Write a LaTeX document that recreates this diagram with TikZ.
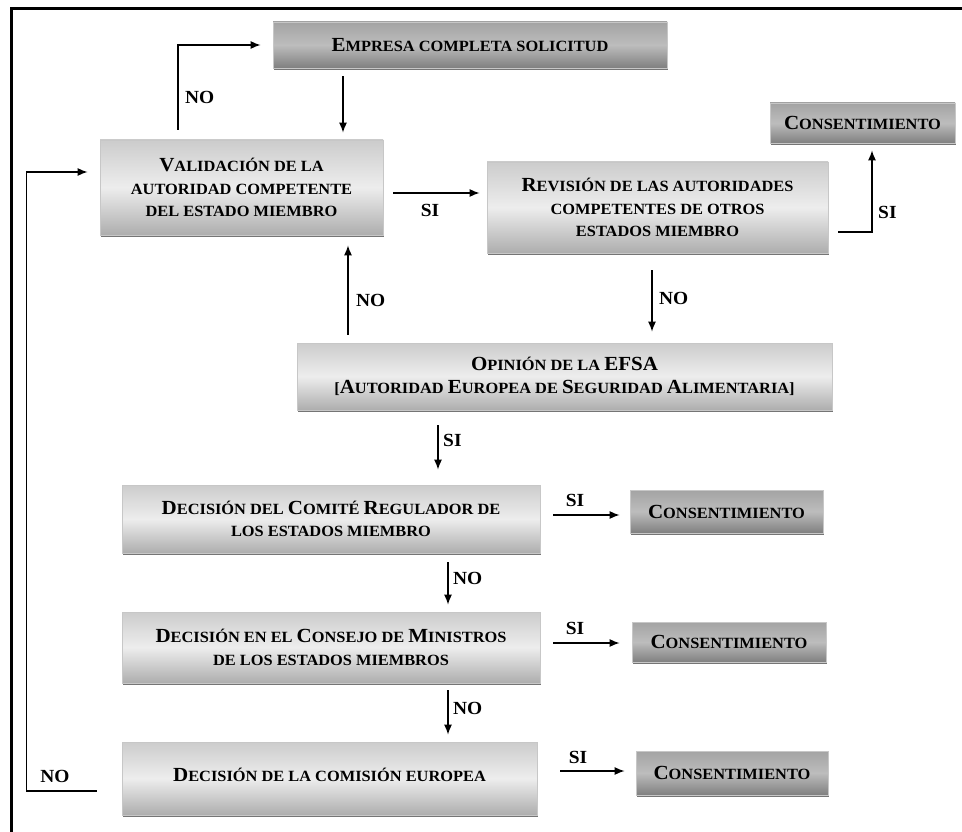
\documentclass[tikz,border=0pt]{standalone}
\usepackage{fontspec}
\setmainfont{Liberation Serif}[FakeStretch=1.05]
\usetikzlibrary{arrows.meta,shadows}
\newcommand\BC[1]{{\fontsize{20}{22.5}\selectfont #1}}
\begin{document}
\begin{tikzpicture}[x=1pt,y=-1pt,
 gbox/.style={draw=black!22, line width=0.6pt, top color=black!20, bottom color=black!32, middle color=black!7,
   drop shadow={shadow xshift=0.6pt, shadow yshift=-2.2pt, fill=black!60, opacity=0.9},
   align=center, inner sep=0pt, font=\bfseries\fontsize{15.6}{22.5}\selectfont},
 dbox/.style={gbox, top color=black!36, bottom color=black!50, middle color=black!26},
 arr/.style={line width=1.5pt, -{Latex[length=10pt,width=8pt]}},
 lbl/.style={font=\bfseries\fontsize{18.5}{18.5}\selectfont, inner sep=0pt}]
\useasboundingbox (0,0) rectangle (962,832);
\fill[white] (0,0) rectangle (962,832);
\draw[line width=3pt] (962,9) -- (11,9) -- (11,832);

% boxes
\node[dbox, minimum width=394pt, minimum height=46pt] (emp) at (470,45) {\BC{E}MPRESA COMPLETA SOLICITUD};
\node[gbox, minimum width=283pt, minimum height=95pt] (val) at (241.5,187.5) {\BC{V}ALIDACIÓN DE LA\\AUTORIDAD COMPETENTE\\DEL ESTADO MIEMBRO};
\node[gbox, minimum width=341pt, minimum height=91pt] (rev) at (657.5,207.5) {\BC{R}EVISIÓN DE LAS AUTORIDADES\\COMPETENTES DE OTROS\\ESTADOS MIEMBRO};
\node[dbox, minimum width=185pt, minimum height=40pt] (con1) at (862.5,123) {\BC{C}ONSENTIMIENTO};
\node[gbox, minimum width=535pt, minimum height=67pt] (opi) at (564.5,376.5) {\BC{O}PINIÓN DE LA \BC{EFSA}\\{[}\BC{A}UTORIDAD \BC{E}UROPEA DE \BC{S}EGURIDAD \BC{A}LIMENTARIA{]}};
\node[gbox, minimum width=418pt, minimum height=68pt] (com) at (331,519) {\BC{D}ECISIÓN DEL \BC{C}OMITÉ \BC{R}EGULADOR DE\\LOS ESTADOS MIEMBRO};
\node[dbox, minimum width=193pt, minimum height=43pt] (con2) at (726.5,511.5) {\BC{C}ONSENTIMIENTO};
\node[gbox, minimum width=418pt, minimum height=71pt] (cons) at (331,647.5) {\BC{D}ECISIÓN EN EL \BC{C}ONSEJO DE \BC{M}INISTROS\\DE LOS ESTADOS MIEMBROS};
\node[dbox, minimum width=194pt, minimum height=40pt] (con3) at (729,642) {\BC{C}ONSENTIMIENTO};
\node[gbox, minimum width=415pt, minimum height=73pt] (cec) at (329.5,778.5) {\raisebox{8pt}{\BC{D}ECISIÓN DE LA COMISIÓN EUROPEA}};
\node[dbox, minimum width=192pt, minimum height=44pt] (con4) at (732,773) {\BC{C}ONSENTIMIENTO};

% connectors
\draw[arr, shorten >=12pt] ([xshift=-63.5pt,yshift=10pt]val.north) |- (emp.west);
\node[lbl, anchor=west] (l1) at (185,97) {NO};
\draw[arr] ([xshift=-127pt,yshift=-8pt]emp.south) -- ([xshift=101.5pt,yshift=7pt]val.north);
\draw[arr] ([xshift=10pt,yshift=-5.5pt]val.east) -- ([xshift=-7pt,yshift=14.5pt]rev.west);
\node[lbl] (l2) at (430,210) {SI};
\draw[arr] ([xshift=10pt,yshift=-24.5pt]rev.east) -| ([xshift=9.5pt,yshift=-7pt]con1.south);
\node[lbl, anchor=west] (l3) at (878,212) {SI};
\draw[arr] ([xshift=-5.5pt,yshift=-17pt]rev.south) -- ([xshift=87.5pt,yshift=11pt]opi.north);
\node[lbl, anchor=west] (l4) at (659,298) {NO};
\draw[arr] ([xshift=-216.5pt,yshift=8pt]opi.north) -- ([xshift=106.5pt,yshift=-10pt]val.south);
\node[lbl, anchor=west] (l5) at (356,300) {NO};
\draw[arr] ([xshift=-126.5pt,yshift=-15pt]opi.south) -- ([xshift=107pt,yshift=15pt]com.north);
\node[lbl, anchor=west] (l6) at (443,440) {SI};
\draw[arr] ([xshift=13pt,yshift=4pt]com.east) -- ([xshift=-10pt,yshift=-3.5pt]con2.west);
\node[lbl] (l7) at (575,500) {SI};
\draw[arr] ([xshift=117pt,yshift=-9pt]com.south) -- ([xshift=117pt,yshift=7pt]cons.north);
\node[lbl, anchor=west] (l8) at (453,578) {NO};
\draw[arr] ([xshift=13pt,yshift=4.5pt]cons.east) -- ([xshift=-12pt,yshift=-1pt]con3.west);
\node[lbl] (l9) at (575,628) {SI};
\draw[arr] ([xshift=117pt,yshift=-7pt]cons.south) -- ([xshift=118.5pt,yshift=7pt]cec.north);
\node[lbl, anchor=west] (l10) at (453,708) {NO};
\draw[arr] ([xshift=23pt,yshift=7.5pt]cec.east) -- ([xshift=-11pt,yshift=2pt]con4.west);
\node[lbl] (l11) at (578,757) {SI};
\draw[arr, shorten >=12pt] ([xshift=-25pt,yshift=-12.5pt]cec.west) -- ++(-70,0) |- ([yshift=15.5pt]val.west);
\node[lbl] (l12) at (55,776) {NO};
\end{tikzpicture}
\end{document}
